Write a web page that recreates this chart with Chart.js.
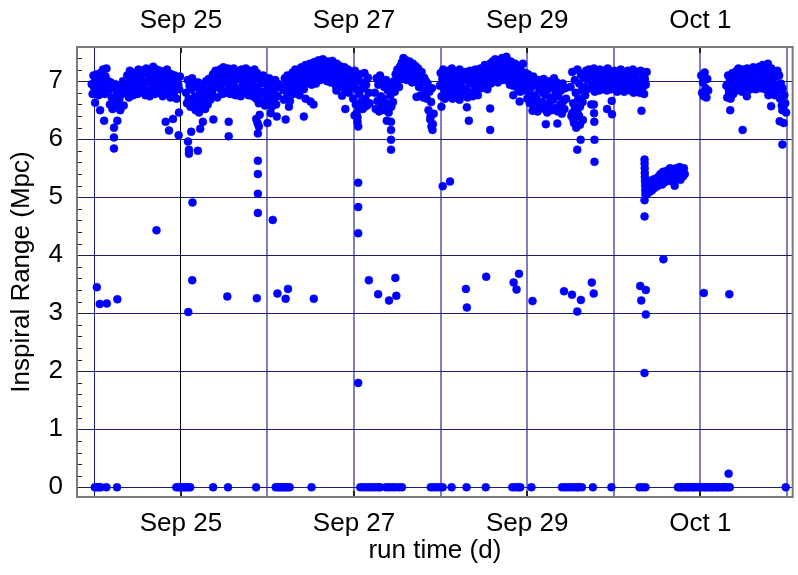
<!DOCTYPE html>
<html>
<head>
<meta charset="utf-8">
<script src="https://cdn.jsdelivr.net/npm/chart.js@4.4.0/dist/chart.umd.min.js"></script>
<style>
  html, body { margin: 0; padding: 0; background: #fff; }
</style>
</head>
<body>
<canvas id="range" width="798" height="575"></canvas>
<script>
// Inspiral range over the run, one sample every SAMPLE_DAYS while locked
const SAMPLE_DAYS = 0.01;

// x axis: day of month counted from Sep (Oct 1 = 31)
const X_MIN = 23.8;
const X_MAX = 32.066;
const Y_MIN = -0.167;
const Y_MAX = 7.59;

const dateDays = [25, 27, 29, 31];
const dateLabels = ['Sep 25', 'Sep 27', 'Sep 29', 'Oct 1'];

// start of each locked stretch (days)
const segStarts = [23.97, 25.06, 26.18, 27.24, 27.99, 29.50, 30.37, 31.01, 31.30];

const sep24 = [
  6.95, 6.78, 7.10, 6.88, 7.02, 6.80, 7.12, 6.92, 6.76, 7.05,
  6.90, 7.15, 6.82, 7.20, 6.98, 6.78, 7.08, 7.22, 6.86, 7.00,
  6.85, 6.60, 6.98, 6.72, 6.52, 6.90, 6.66, 6.95, 6.55, 6.80,
  6.62, 6.92, 6.70, 6.50, 6.88, 6.78, 7.00, 6.58, 6.86, 6.96,
  6.80, 7.10, 6.92, 6.72, 7.18, 7.02, 6.85, 7.12, 6.76, 6.98,
  7.15, 6.88, 7.05, 6.78, 7.20, 6.95, 7.10, 6.82, 7.18, 7.00,
  6.90, 7.14, 6.76, 7.22, 6.98, 6.84, 7.08, 6.74, 7.16, 7.02,
  6.86, 7.25, 6.95, 6.78, 7.12, 7.20, 6.88, 7.04, 6.80, 7.18,
  6.96, 7.08, 6.74, 7.16, 6.90, 7.02, 6.78, 7.20, 6.85, 7.06,
  6.92, 6.72, 7.12, 6.84, 7.00, 6.76, 7.10, 6.88, 6.70, 7.04,
  6.94, 6.86, 7.08
];

const sep25 = [
  6.80, 6.62, 7.02, 6.70, 6.92, 6.56, 6.86, 7.05, 6.66, 6.95,
  6.74, 6.50, 6.90, 6.62, 6.98, 6.46, 6.82, 6.70, 6.55, 6.94,
  6.65, 6.88, 6.52, 7.00, 6.76, 6.60, 7.04, 6.84, 6.68, 6.96,
  6.82, 7.12, 6.74, 7.02, 7.18, 6.90, 6.72, 7.08, 6.96, 7.20,
  6.86, 7.10, 6.78, 7.24, 6.98, 7.14, 6.80, 7.04, 7.22, 6.90,
  7.06, 6.78, 7.18, 6.94, 6.82, 7.22, 7.00, 6.76, 7.12, 6.88,
  7.16, 6.84, 7.04, 6.74, 7.20, 6.92, 7.10, 6.80, 6.98, 7.22,
  6.86, 7.08, 6.76, 7.18, 6.96, 6.82, 7.12, 6.74, 7.02, 7.20,
  6.90, 6.70, 7.14, 6.84, 6.62, 7.04, 6.78, 6.96, 6.64, 7.10,
  6.82, 6.58, 7.00, 6.72, 6.92, 6.60, 7.05, 6.76, 6.88, 6.56,
  6.98, 6.68, 6.84, 7.02, 6.60, 6.90, 6.74, 6.95
];

const sep26 = [
  6.85, 6.68, 7.05, 6.92, 6.72, 7.10, 6.80, 6.98, 6.66, 7.02,
  6.88, 7.15, 6.78, 7.04, 7.20, 6.92, 6.82, 7.12, 6.98, 6.76,
  7.08, 7.24, 6.92, 7.16, 6.86, 7.02, 7.28, 6.96, 7.12, 7.20,
  6.98, 7.30, 7.10, 6.94, 7.22, 7.04, 7.33, 7.14, 6.96, 7.26,
  7.08, 7.36, 7.18, 7.02, 7.30, 7.12, 7.38, 7.22, 7.04, 7.32,
  7.16, 7.00, 7.34, 7.10, 7.26, 6.98, 7.20, 7.35, 7.06, 7.28,
  7.14, 6.92, 7.30, 7.04, 7.22, 6.96, 7.26, 7.10, 6.90, 7.18,
  7.06, 7.24, 6.84, 7.12, 6.96, 7.20, 6.80, 7.02, 7.16, 6.90,
  7.10, 6.70, 6.95, 7.18, 6.60, 6.86, 7.04, 6.56, 6.78, 7.12,
  6.64, 6.98, 6.52, 6.88, 7.14, 6.70, 6.94, 6.58, 7.06, 6.80,
  6.62
];

const sep27 = [
  6.80, 6.52, 7.05, 6.66, 6.94, 6.48, 7.10, 6.74, 6.58, 6.98,
  6.70, 6.90, 6.50, 7.02, 6.62, 6.84, 6.46, 6.96, 6.76, 6.56,
  6.88, 6.64, 7.00, 6.82, 7.12, 6.92, 7.20, 7.02, 6.90, 7.25,
  7.10, 7.32, 7.04, 7.40, 7.20, 7.12, 7.36, 7.02, 7.28, 7.16,
  7.34, 7.06, 7.22, 6.98, 7.30, 7.14, 7.00, 7.26, 7.08, 7.18,
  7.22, 6.90, 7.10, 6.76, 7.16, 6.98, 6.72, 7.06, 6.84, 7.00,
  6.70, 6.96, 6.50, 6.82, 6.34, 6.64, 6.88, 6.26, 6.44
];

const sep28 = [
  6.92, 7.14, 6.74, 7.04, 7.20, 6.86, 6.70, 7.10, 6.98, 6.80,
  7.18, 6.90, 7.06, 6.76, 7.22, 6.96, 7.12, 6.82, 7.02, 7.16,
  6.88, 7.08, 6.78, 7.20, 6.94, 7.00, 6.76, 7.14, 6.86, 7.04,
  7.16, 6.84, 6.72, 7.10, 6.96, 7.18, 6.80, 7.00, 6.74, 7.12,
  6.92, 7.20, 6.82, 7.06, 6.76, 7.16, 6.98, 7.22, 6.88, 7.02,
  7.10, 6.90, 7.28, 7.00, 7.18, 6.86, 7.24, 7.06, 7.30, 6.96,
  7.14, 7.34, 7.02, 7.22, 7.38, 7.08, 7.28, 6.98, 7.18, 7.32,
  7.06, 7.26, 7.40, 7.12, 7.02, 7.36, 7.20, 7.42, 7.08, 7.30,
  7.16, 6.94, 7.34, 7.04, 7.24, 6.92, 7.12, 7.30, 7.00, 7.20,
  6.88, 7.26, 7.08, 6.82, 7.18, 6.96, 7.30, 7.04, 6.84, 7.14,
  6.96, 6.70, 7.12, 6.82, 6.62, 7.04, 6.90, 6.66, 7.08, 6.76,
  6.58, 6.94, 6.70, 6.48, 7.02, 6.84, 6.56, 6.92, 6.64, 6.80,
  7.04, 6.52, 6.76, 6.96, 6.46, 6.86, 6.62, 7.00, 6.72, 6.50,
  6.90, 6.68, 7.05, 6.54, 6.80, 6.98, 6.48, 6.74, 6.92, 6.60,
  6.84, 6.44, 6.96, 6.66, 6.52, 6.88, 6.70
];

const sep29 = [
  6.90, 6.40, 7.16, 6.62, 6.28, 7.02, 6.80, 6.50, 7.20, 6.70,
  6.96, 6.56, 7.12, 6.84, 6.64, 7.06, 6.90, 6.76, 7.18, 6.86,
  7.02, 7.20, 6.88, 7.10, 6.60, 7.14, 6.94, 7.22, 6.82, 7.04,
  7.16, 6.90, 7.08, 6.84, 7.20, 7.00, 6.92, 7.12, 6.86, 7.18,
  6.96, 7.06, 6.84, 7.22, 7.00, 6.90, 7.14, 6.86, 7.10, 7.02,
  6.88, 7.18, 6.94, 7.06, 6.82, 7.16, 7.00, 6.90, 7.20, 6.86,
  7.08, 6.96, 6.82, 7.14, 7.02, 6.88, 7.18, 6.94, 7.04, 6.84,
  7.12, 6.90, 7.20, 6.80, 7.06, 6.98, 6.86, 7.16, 6.92, 7.02,
  6.80, 7.18, 7.00, 6.88, 7.12, 6.78, 7.04, 6.94, 7.16
];

// reduced-range stretch on Sep 30
const sep30Low = [
  5.30, 5.05, 5.18, 5.08, 5.22,
  5.10, 5.26, 5.12, 5.30, 5.15, 5.24, 5.32, 5.18, 5.28, 5.20,
  5.36, 5.24, 5.40, 5.30, 5.22, 5.44, 5.34, 5.26, 5.42, 5.32,
  5.46, 5.30, 5.40, 5.50, 5.28, 5.44, 5.36, 5.48, 5.32, 5.42,
  5.50, 5.34, 5.46, 5.38, 5.52, 5.30, 5.44, 5.48, 5.36, 5.50, 5.40
];

const oct1a = [7.10, 6.80, 6.98, 6.74, 7.15, 6.88, 6.72, 7.04, 6.84];

const oct1b = [
  6.92, 6.72, 7.10, 6.82, 7.02, 6.70, 6.96, 7.14, 6.78, 6.88,
  7.06, 6.84, 7.18, 6.94, 7.22, 6.88, 7.00, 7.12, 6.82, 7.20,
  6.96, 7.16, 6.88, 7.08, 7.22, 6.92, 7.02, 7.18, 6.86, 7.12,
  7.00, 7.24, 6.90, 7.14, 6.86, 7.20, 7.06, 6.94, 7.25, 7.04,
  6.88, 7.18, 7.28, 6.96, 7.12, 6.86, 7.22, 7.04, 7.30, 6.92,
  7.14, 6.80, 7.22, 7.02, 6.88, 7.16, 6.76, 7.08, 6.94, 7.18,
  6.84, 7.10, 6.70, 6.96, 6.58, 6.88, 6.50, 6.76, 6.62, 6.46
];

const segValues = [sep24, sep25, sep26, sep27, sep28, sep29, sep30Low, oct1a, oct1b];

// glitches and short dips (day, Mpc)
const dipDays = [
  24.009, 24.067, 24.113, 24.227, 24.227, 24.227, 24.266, 24.824, 24.863, 24.909,
  24.978, 24.974, 24.029, 24.063, 24.144, 24.266, 24.718,
  25.082, 25.093, 25.093, 25.196, 25.119, 25.223, 25.254, 25.375, 25.552, 25.552,
  25.134, 25.131, 25.085, 25.536, 25.877, 25.885, 25.889, 25.889, 25.889, 25.889,
  25.889, 25.870, 25.900, 25.910, 26.061, 26.000, 26.038, 26.107, 26.115,
  26.210, 26.248, 26.237, 26.210, 26.420, 26.440, 26.497, 26.532, 26.535,
  26.796, 26.861, 26.899, 27.006, 27.030, 27.040, 27.040, 27.048, 27.048, 27.048,
  27.048, 27.048, 27.117, 27.171, 27.278, 27.404, 27.477, 27.488,
  27.378, 27.427, 27.427, 27.427, 27.427, 27.722, 27.883, 27.894, 27.906,
  28.009, 28.024, 28.108, 28.139, 28.219, 28.292, 28.303, 28.303, 28.326,
  28.526, 28.572, 28.572, 28.839, 28.843, 28.877, 28.905, 28.912,
  29.061, 29.061, 29.215, 29.348, 29.425, 29.517, 29.520, 29.530, 29.550, 29.560,
  29.566, 29.578, 29.578, 29.580, 29.600, 29.610, 29.617, 29.620, 29.643,
  29.746, 29.768, 29.770, 29.772, 29.775, 29.777, 29.777, 29.922, 29.979, 29.976,
  30.320, 30.305, 30.370, 30.317, 30.370, 30.355, 30.355, 30.355,
  30.355, 30.356, 30.357, 30.358, 30.359, 30.360, 30.362, 30.364, 30.365,
  30.573, 30.703, 31.040, 31.326, 31.334, 31.345, 31.488, 31.537,
  31.786, 31.817, 31.947, 31.916, 31.962, 31.947
];
const dipRange = [
  6.63, 6.50, 6.32, 6.20, 6.03, 5.84, 6.32, 6.30, 6.15, 6.35,
  6.46, 6.07, 3.45, 3.16, 3.17, 3.24, 4.43,
  5.96, 5.82, 5.75, 5.80, 6.13, 6.18, 6.30, 6.34, 6.30, 6.05,
  4.91, 3.57, 3.02, 3.29, 3.26, 6.28, 6.10, 5.63, 5.40, 5.06,
  4.73, 6.35, 6.22, 6.42, 4.61, 6.28, 6.45, 6.39, 3.34,
  6.34, 6.56, 3.42, 3.25, 6.39, 6.70, 6.65, 6.60, 3.25,
  6.84, 6.75, 6.52, 6.41, 6.45, 6.38, 6.30, 6.22, 5.25, 4.83,
  4.38, 1.80, 6.55, 3.57, 3.33, 3.22, 3.61, 3.30,
  6.32, 6.30, 6.16, 5.99, 5.82, 6.73, 6.39, 6.22, 6.16,
  6.56, 5.19, 5.27, 6.70, 6.68, 3.42, 3.10, 6.55, 6.32,
  3.63, 6.53, 6.16, 6.76, 3.53, 3.41, 3.68, 6.65,
  3.21, 6.49, 6.26, 6.27, 3.38, 3.32, 6.45, 6.35, 6.52, 6.38,
  6.20, 5.82, 3.03, 6.46, 6.40, 6.25, 5.99, 3.23, 6.33,
  3.53, 3.34, 6.60, 6.45, 6.30, 5.99, 5.61, 6.52, 6.43, 6.66,
  6.49, 3.47, 3.40, 3.22, 2.98, 1.97, 4.95, 4.67,
  5.65, 5.58, 5.50, 5.42, 5.35, 5.28, 5.20, 5.12, 5.05,
  3.93, 5.20, 3.35, 0.235, 3.33, 6.50, 6.16, 6.74,
  6.76, 6.57, 6.50, 6.31, 6.28, 5.91
];

// samples where the range reads zero (lock loss)
const lockLossDays = [
  24.006, 24.029, 24.053, 24.076, 24.140, 24.262,
  24.947, 24.970, 24.993, 25.016, 25.039, 25.062, 25.085, 25.108,
  25.372, 25.544, 25.869,
  26.095, 26.118, 26.141, 26.164, 26.187, 26.210, 26.233, 26.256, 26.509,
  27.072, 27.106, 27.141, 27.175, 27.209, 27.243, 27.278, 27.301,
  27.370, 27.404, 27.439, 27.473, 27.519, 27.554,
  27.886, 27.921, 27.955, 27.990, 28.024, 28.127, 28.299, 28.521,
  28.828, 28.863, 28.897, 28.920, 29.049,
  29.402, 29.436, 29.471, 29.505, 29.540, 29.574, 29.597, 29.632,
  29.758, 29.972, 30.297, 30.332, 30.366,
  30.74, 30.76, 30.78, 30.80, 30.83, 30.85, 30.87, 30.90, 30.92, 30.94,
  30.97, 30.99, 31.01, 31.04, 31.06, 31.08, 31.11, 31.13, 31.15, 31.18,
  31.20, 31.22, 31.25, 31.27, 31.29, 31.32, 31.34,
  31.986
];

const FONT = { family: "'Liberation Sans', Arial, sans-serif", size: 26 };

function buildPoints() {
  const pts = [];
  segValues.forEach((vals, s) => {
    vals.forEach((v, i) => pts.push({ x: segStarts[s] + i * SAMPLE_DAYS, y: v }));
  });
  dipDays.forEach((d, i) => pts.push({ x: d, y: dipRange[i] }));
  lockLossDays.forEach(d => pts.push({ x: d, y: 0 }));
  return pts;
}

function dateLabel(v) {
  const i = dateDays.indexOf(Math.round(v));
  return i >= 0 && Math.abs(v - dateDays[i]) < 1e-6 ? dateLabels[i] : '';
}

function dayLineColor(v) {
  if (v === 24) return '#1a1a80';
  if (v === 25) return '#000000';
  return 'rgba(40, 40, 150, 0.6)';
}

// frame and inward tick marks
const framePlugin = {
  id: 'frame',
  afterDatasetsDraw(chart) {
    const { ctx, chartArea: a, scales } = chart;
    ctx.save();
    ctx.strokeStyle = '#222';
    ctx.lineWidth = 1;
    ctx.beginPath();
    for (let k = 0; k <= 37; k++) {
      const y = Math.round(scales.y.getPixelForValue(k * 0.2)) + 0.5;
      const len = k % 5 === 0 ? 8 : 5;
      ctx.moveTo(a.left, y);
      ctx.lineTo(a.left + len, y);
    }
    ctx.stroke();
    ctx.lineWidth = 2;
    ctx.beginPath();
    dateDays.forEach(d => {
      const x = Math.round(scales.x.getPixelForValue(d));
      ctx.moveTo(x, a.bottom);
      ctx.lineTo(x, a.bottom - 6);
      ctx.moveTo(x, a.top);
      ctx.lineTo(x, a.top + 6);
    });
    ctx.stroke();
    ctx.strokeStyle = '#7a7a7a';
    ctx.lineWidth = 2;
    ctx.strokeRect(a.left, a.top, a.right - a.left, a.bottom - a.top);
    ctx.restore();
  }
};

new Chart(document.getElementById('range'), {
  type: 'scatter',
  data: {
    datasets: [{
      data: buildPoints(),
      backgroundColor: '#0000ff',
      borderColor: '#0000ff',
      borderWidth: 0.5,
      pointRadius: 4
    }]
  },
  options: {
    responsive: false,
    animation: false,
    layout: { padding: { left: 0, right: 1, top: 0, bottom: 0 } },
    plugins: { legend: { display: false }, tooltip: { enabled: false } },
    scales: {
      x: {
        type: 'linear',
        position: 'bottom',
        min: X_MIN,
        max: X_MAX,
        afterFit: s => { s.height = 78; },
        ticks: {
          stepSize: 1, includeBounds: false, autoSkip: false, maxRotation: 0,
          padding: 11, color: '#000', font: FONT, callback: dateLabel
        },
        grid: {
          drawTicks: false,
          color: c => (c.tick ? dayLineColor(c.tick.value) : 'transparent'),
          lineWidth: c => (c.tick && (c.tick.value === 24 || c.tick.value === 25) ? 1 : 2)
        },
        border: { display: false },
        title: {
          display: true, text: 'run time (d)', color: '#000', font: FONT,
          padding: { top: 0, bottom: 9 }
        }
      },
      x2: {
        type: 'linear',
        position: 'top',
        min: X_MIN,
        max: X_MAX,
        afterFit: s => { s.height = 47; },
        ticks: {
          stepSize: 1, includeBounds: false, autoSkip: false, maxRotation: 0,
          padding: 11, color: '#000', font: FONT, callback: dateLabel
        },
        grid: { display: false, drawTicks: false },
        border: { display: false }
      },
      y: {
        min: Y_MIN,
        max: Y_MAX,
        afterFit: s => { s.width = 77; },
        ticks: { stepSize: 1, includeBounds: false, padding: 14, color: '#000', font: FONT },
        grid: { drawTicks: false, color: '#1c1c78', lineWidth: 1 },
        border: { display: false },
        title: {
          display: true, text: 'Inspiral Range (Mpc)', color: '#000', font: FONT,
          padding: { top: 6, bottom: 0 }
        }
      }
    }
  },
  plugins: [framePlugin]
});
</script>
</body>
</html>
